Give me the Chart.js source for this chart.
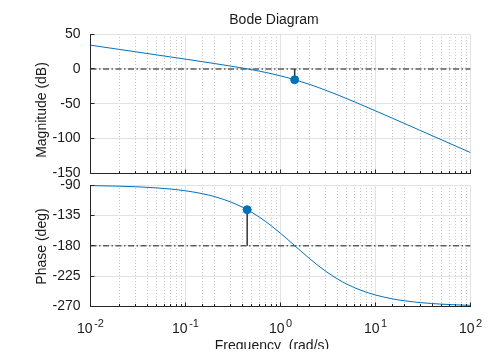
<!DOCTYPE html>
<html>
<head>
<meta charset="utf-8">
<title>Bode Diagram</title>
<script src="https://cdn.jsdelivr.net/npm/chart.js@4.4.0/dist/chart.umd.min.js"></script>
<style>
  html, body { margin: 0; padding: 0; background: #fff; }
  #wrap { position: relative; width: 504px; height: 362px; }
  #topBox, #botBox { position: absolute; left: 0; top: 0; width: 504px; overflow: hidden; }
  #topBox { height: 362px; }
  #botBox { height: 349px; }  /* the reference cuts the frequency label here */
</style>
</head>
<body>
<div id="wrap">
  <div id="topBox"><canvas id="magChart" width="504" height="362"></canvas></div>
  <div id="botBox"><canvas id="phaseChart" width="504" height="362"></canvas></div>
</div>
<script>
// frequency points (rad/s) and the values
const freq = [0.01, 0.02, 0.03, 0.05, 0.07, 0.1, 0.15, 0.2, 0.3, 0.4, 0.5, 0.6, 0.7, 0.8, 1,
              1.2, 1.5, 2, 2.5, 3, 4, 5, 7, 10, 15, 20, 30, 50, 70, 100];
const magDb = [33.98, 27.96, 24.43, 19.99, 17.05, 13.93, 10.34, 7.75, 3.97, 1.12, -1.23, -3.29, -5.16, -6.87, -10.0,
               -12.81, -16.6, -22.04, -26.67, -30.68, -37.35, -42.75, -51.13, -60.21, -70.66, -78.11, -88.65, -101.95, -110.71, -120.0];
const phaseDeg = [-90.86, -91.72, -92.58, -94.29, -96.01, -98.57, -102.82, -107.02, -115.23, -123.11, -130.6, -137.66, -144.28, -150.46, -161.57,
                  -171.15, -183.18, -198.43, -209.54, -217.88, -229.39, -236.89, -245.92, -252.98, -258.6, -261.43, -264.28, -266.56, -267.54, -268.28];

const magTicks = [50, 0, -50, -100, -150];
const phaseTicks = [-90, -135, -180, -225, -270];
const decades = [-2, -1, 0, 1, 2];   // x labels are 10^n

// gain margin and phase margin markers
const gmFreq = 1.41, gmMag = -15.6;
const pmFreq = 0.446, pmPhase = -126.6;
const magRef = 0, phaseRef = -180;

const FONT = "'Liberation Sans', Arial, Helvetica, sans-serif";
const blue = '#0072bd';
const axisCol = '#262626';
const textCol = '#1a1a1a';

function isDecade(v) {
    const l = Math.log10(v);
    return Math.abs(l - Math.round(l)) < 1e-6;
}

function pts(xs, ys) {
    return xs.map((x, i) => ({ x: x, y: ys[i] }));
}

function xScaleOpts() {
    return {
        type: 'logarithmic',
        min: 0.01,
        max: 100,
        ticks: { display: false, autoSkip: false },
        grid: {
            drawTicks: false,
            lineWidth: 1,
            color: c => (c.tick && !isDecade(c.tick.value)) ? '#c6c6c6' : '#e2e2e2'
        },
        border: {
            display: true, color: axisCol, width: 1,
            dash: c => (c.tick && !isDecade(c.tick.value)) ? [1, 2] : []
        },
        afterFit: s => { s.height = 0; }
    };
}

function yScaleOpts(min, max, tickVals) {
    return {
        min: min,
        max: max,
        afterBuildTicks: s => { s.ticks = tickVals.map(v => ({ value: v })); },
        ticks: { color: textCol, font: { family: FONT, size: 14 }, padding: 10 },
        grid: { drawTicks: false, color: '#e2e2e2', lineWidth: 1 },
        border: { display: true, color: axisCol, width: 1 },
        afterFit: s => { s.width = 90.5; }
    };
}

function marginSets(f, v, ref, lo, hi) {
    return [
        { data: [{ x: f, y: v }], showLine: false, pointRadius: 4, pointBackgroundColor: blue, pointBorderColor: blue, order: 0 },
        { data: [{ x: f, y: v }, { x: f, y: ref }], borderColor: '#333', borderWidth: 1.5, pointRadius: 0, order: 2 },
        { data: [{ x: lo, y: ref }, { x: hi, y: ref }], borderColor: '#5e5e5e', borderWidth: 1.5,
          borderDash: [6, 2.5, 1.5, 2.5], pointRadius: 0, order: 3 }
    ];
}

// small inward ticks on left and bottom axes
function innerTicks(chart) {
    const ctx = chart.ctx, x = chart.scales.x, y = chart.scales.y, a = chart.chartArea;
    ctx.save();
    ctx.strokeStyle = axisCol;
    ctx.lineWidth = 1;
    ctx.beginPath();
    x.ticks.forEach(t => {
        const px = Math.round(x.getPixelForValue(t.value) - 0.5) + 0.5;
        const len = isDecade(t.value) ? 4 : 2.5;
        ctx.moveTo(px, a.bottom);
        ctx.lineTo(px, a.bottom - len);
    });
    y.ticks.forEach(t => {
        const py = Math.round(y.getPixelForValue(t.value) - 0.5) + 0.5;
        ctx.moveTo(a.left, py);
        ctx.lineTo(a.left + 4, py);
    });
    ctx.stroke();
    ctx.restore();
}

function vText(ctx, str, x, y) {
    ctx.save();
    ctx.translate(x, y);
    ctx.rotate(-Math.PI / 2);
    ctx.fillStyle = textCol;
    ctx.font = '14px ' + FONT;
    ctx.textAlign = 'center';
    ctx.textBaseline = 'alphabetic';
    ctx.fillText(str, 0, 0);
    ctx.restore();
}

function hText(ctx, str, x, y) {
    ctx.save();
    ctx.fillStyle = textCol;
    ctx.font = '14px ' + FONT;
    ctx.textAlign = 'center';
    ctx.textBaseline = 'alphabetic';
    ctx.fillText(str, x, y);
    ctx.restore();
}

const baseOpts = (yOpts, padTop, padBottom) => ({
    responsive: false,
    animation: false,
    layout: { padding: { top: padTop, bottom: padBottom, left: 0, right: 33.5 } },
    plugins: { legend: { display: false }, tooltip: { enabled: false } },
    scales: { x: xScaleOpts(), y: yOpts }
});

new Chart(document.getElementById('magChart'), {
    type: 'line',
    data: {
        datasets: [
            { data: pts(freq, magDb), borderColor: blue, borderWidth: 1, pointRadius: 0,
              cubicInterpolationMode: 'monotone', order: 1 }
        ].concat(marginSets(gmFreq, gmMag, magRef, 0.01, 100))
    },
    options: baseOpts(yScaleOpts(-150, 50, magTicks), 34, 188.5),
    plugins: [{
        id: 'magText',
        afterDraw(chart) {
            innerTicks(chart);
            hText(chart.ctx, 'Bode Diagram', 274, 24);
            vText(chart.ctx, 'Magnitude (dB)', 45.5, 110);
        }
    }]
});

new Chart(document.getElementById('phaseChart'), {
    type: 'line',
    data: {
        datasets: [
            { data: pts(freq, phaseDeg), borderColor: blue, borderWidth: 1, pointRadius: 0,
              cubicInterpolationMode: 'monotone', order: 1 }
        ].concat(marginSets(pmFreq, pmPhase, phaseRef, 0.01, 100))
    },
    options: baseOpts(yScaleOpts(-270, -90, phaseTicks), 185, 55.5),
    plugins: [{
        id: 'phaseText',
        afterDraw(chart) {
            const ctx = chart.ctx, xs = chart.scales.x;
            innerTicks(chart);
            vText(ctx, 'Phase (deg)', 45.5, 246.5);
            // 10^n labels with raised exponent
            decades.forEach(n => {
                const px = xs.getPixelForValue(Math.pow(10, n));
                const exp = String(n);
                ctx.save();
                ctx.fillStyle = textCol;
                ctx.textBaseline = 'alphabetic';
                ctx.textAlign = 'left';
                ctx.font = '14px ' + FONT;
                const wBase = ctx.measureText('10').width;
                ctx.font = '11px ' + FONT;
                const wExp = ctx.measureText(exp).width;
                const x0 = px - (wBase + 1.5 + wExp) / 2;
                ctx.font = '14px ' + FONT;
                ctx.fillText('10', x0, 333);
                ctx.font = '11px ' + FONT;
                ctx.fillText(exp, x0 + wBase + 1.5, 327);
                ctx.restore();
            });
            hText(ctx, 'Frequency  (rad/s)', 272, 349.5);
        }
    }]
});
</script>
</body>
</html>
